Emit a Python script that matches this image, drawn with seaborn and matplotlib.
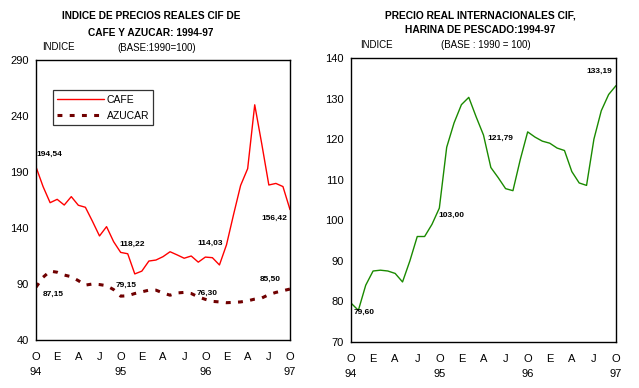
import matplotlib
matplotlib.use("Agg")
import matplotlib.pyplot as plt
import matplotlib.transforms as mtransforms
import seaborn as sns
import pandas as pd

# ---------------------------------------------------------------
# DATOS (mensuales, oct-94 a oct-97)
# ---------------------------------------------------------------
mes_letras = ["O", "E", "A", "J"]
anios = ["94", "95", "96", "97"]

cafe = [194.54, 177, 162.6, 165.6, 160.5, 168, 160.3, 158.5, 146, 132.9,
        141.2, 127.8, 118.22, 117, 99, 101.5, 110.5, 111.4, 114.4, 118.8,
        116, 113, 115, 109.5, 114.03, 113.5, 107, 125, 152, 178,
        193, 250, 215, 178.4, 179.8, 177, 156.42]

azucar = [87.15, 96, 101.5, 100.5, 98, 96.5, 93, 89, 90, 89.5,
          88.5, 85, 79.15, 79.5, 81.5, 83, 84.5, 84.5, 82, 80,
          82, 82.5, 81.5, 78.5, 76.30, 74.5, 74, 73.3, 73.6, 74,
          75, 76.5, 77.5, 80.5, 82.5, 84, 85.50]

harina = [79.60, 77.8, 84, 87.5, 87.7, 87.5, 86.9, 84.8, 90, 96,
          96, 99, 103.00, 118, 124, 128.5, 130.3, 125.5, 121, 113,
          110.5, 107.8, 107.3, 115, 121.79, 120.5, 119.5, 119, 117.8, 117.2,
          112, 109.2, 108.6, 120, 127, 131, 133.19]

meses = list(range(len(cafe)))

df_izq = pd.DataFrame({"mes": meses * 2,
                       "indice": cafe + azucar,
                       "serie": ["CAFE"] * len(cafe) + ["AZUCAR"] * len(azucar)})
df_der = pd.DataFrame({"mes": meses, "indice": harina})

# ---------------------------------------------------------------
# ESTILO
# ---------------------------------------------------------------
sns.set_style("white")
plt.rcParams["font.family"] = ["Liberation Sans", "DejaVu Sans"]
plt.rcParams["text.color"] = "black"
plt.rcParams["axes.labelcolor"] = "black"
plt.rcParams["xtick.color"] = "black"
plt.rcParams["ytick.color"] = "black"

fig = plt.figure(figsize=(6.39, 3.88), dpi=100)
ax1 = fig.add_axes([36 / 639, 48 / 388, 254 / 639, 280 / 388])
ax2 = fig.add_axes([351 / 639, 46 / 388, 265 / 639, 284 / 388])


def formato_ejes(ax, ymin, ymax, paso):
    ax.set_xlim(0, 36)
    ax.set_ylim(ymin, ymax)
    ax.set_yticks(range(ymin, ymax + 1, paso))
    ax.set_xticks(range(0, 37))
    ax.set_xticklabels([mes_letras[(i // 3) % 4] if i % 3 == 0 else "" for i in range(37)])
    for s in ax.spines.values():
        s.set_color("black")
        s.set_linewidth(1.0)
    ax.tick_params(axis="both", direction="out", length=3, width=0.8,
                   colors="black", labelsize=8, pad=2)
    ax.tick_params(axis="x", pad=6)
    ax.set_xlabel("")
    ax.set_ylabel("")
    trans = mtransforms.blended_transform_factory(ax.transData, ax.transAxes)
    for k, a in enumerate(anios):
        ax.text(k * 12, -0.095, a, transform=trans, ha="center", va="top",
                fontsize=8, color="black")


def etiqueta(ax, x, y, valor, dx, dy, ha="left"):
    ax.annotate(f"{valor:.2f}".replace(".", ","), xy=(x, y), xytext=(dx, dy),
                textcoords="offset points", ha=ha, va="center",
                fontsize=6, fontweight="bold", color="black")


# ---------------------------------------------------------------
# GRAFICO 1: CAFE Y AZUCAR
# ---------------------------------------------------------------
sns.lineplot(data=df_izq, x="mes", y="indice", hue="serie", style="serie",
             palette={"CAFE": "#ff0000", "AZUCAR": "#700000"},
             dashes={"CAFE": "", "AZUCAR": (1.6, 2.4)},
             size="serie", sizes={"CAFE": 1.0, "AZUCAR": 2.2},
             ax=ax1, legend=True)
formato_ejes(ax1, 40, 290, 50)

h, l = ax1.get_legend_handles_labels()
leg = ax1.legend(h, l, loc="upper left", bbox_to_anchor=(0.045, 0.91),
                 fontsize=7.5, frameon=True, fancybox=False, handlelength=4.5,
                 borderpad=0.4, labelspacing=0.6, handletextpad=0.3)
leg.get_frame().set_edgecolor("black")
leg.get_frame().set_linewidth(0.9)
for t in leg.get_texts():
    t.set_color("black")

etiqueta(ax1, 0, cafe[0], cafe[0], 0.5, 9)
etiqueta(ax1, 12, cafe[12], cafe[12], -1, 6)
etiqueta(ax1, 24, cafe[24], cafe[24], -6, 10)
etiqueta(ax1, 36, cafe[36], cafe[36], -2, -6, ha="right")
etiqueta(ax1, 0, azucar[0], azucar[0], 5, -5)
etiqueta(ax1, 12, azucar[12], azucar[12], -4, 8)
etiqueta(ax1, 24, azucar[24], azucar[24], -6, 4)
etiqueta(ax1, 36, azucar[36], azucar[36], -7, 7, ha="right")

fig.text(151 / 639, 1 - 16 / 388, "INDICE DE PRECIOS REALES CIF DE", ha="center",
         va="center", fontsize=7.3, fontweight="bold")
fig.text(151 / 639, 1 - 33 / 388, "CAFE Y AZUCAR: 1994-97", ha="center",
         va="center", fontsize=7.3, fontweight="bold")
fig.text(42 / 639, 1 - 47 / 388, "INDICE", ha="left", va="center", fontsize=7)
fig.text(157 / 639, 1 - 48 / 388, "(BASE:1990=100)", ha="center", va="center", fontsize=7)

# ---------------------------------------------------------------
# GRAFICO 2: HARINA DE PESCADO
# ---------------------------------------------------------------
sns.lineplot(data=df_der, x="mes", y="indice", color="#1a8a00", linewidth=1.0, ax=ax2)
formato_ejes(ax2, 70, 140, 10)

etiqueta(ax2, 0, harina[0], harina[0], 2, -7)
etiqueta(ax2, 12, harina[12], harina[12], -1, -5)
etiqueta(ax2, 24, harina[24], harina[24], -10, -5, ha="right")
etiqueta(ax2, 36, harina[36], harina[36], -3, 10, ha="right")

fig.text(480 / 639, 1 - 15 / 388, "PRECIO REAL INTERNACIONALES CIF,", ha="center",
         va="center", fontsize=7.4, fontweight="bold")
fig.text(480 / 639, 1 - 30 / 388, "HARINA DE PESCADO:1994-97", ha="center",
         va="center", fontsize=7.4, fontweight="bold")
fig.text(360 / 639, 1 - 45 / 388, "INDICE", ha="left", va="center", fontsize=7)
fig.text(486 / 639, 1 - 45 / 388, "(BASE : 1990 = 100)", ha="center", va="center", fontsize=7)

fig.savefig("out.png", dpi=100)
